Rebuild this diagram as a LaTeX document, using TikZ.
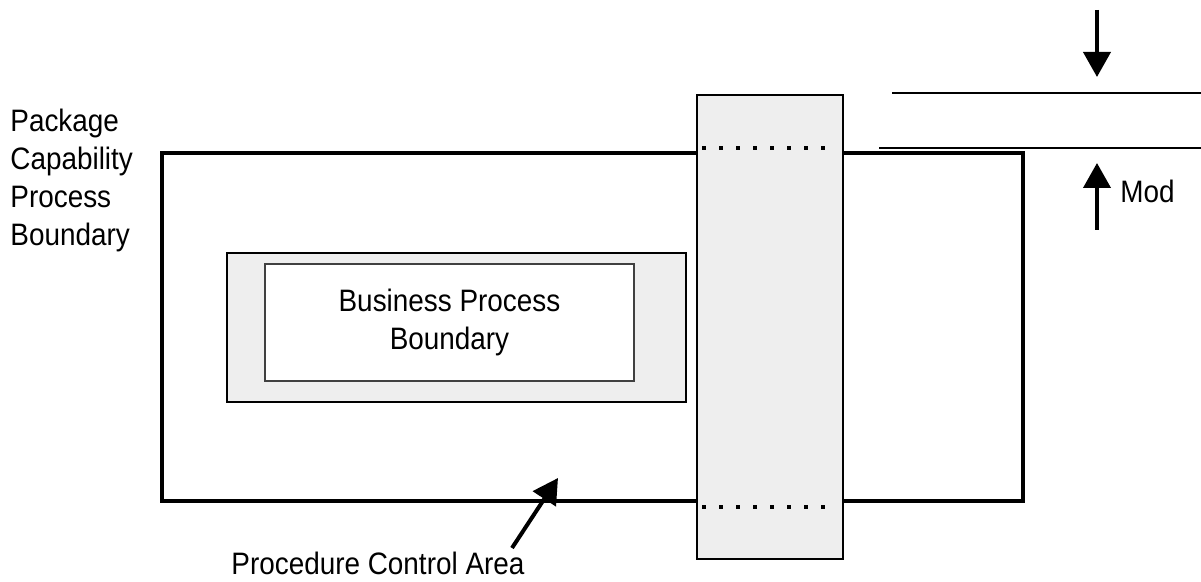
\documentclass[tikz,border=0pt]{standalone}
\usepackage{fontspec}
\setmainfont{Liberation Sans}[FakeStretch=0.9]
\usetikzlibrary{positioning}
\usetikzlibrary{arrows.meta}
\definecolor{areagray}{HTML}{EEEEEE}

\begin{document}
\begin{tikzpicture}[x=0.5pt,y=-0.5pt,font=\fontsize{15.5}{19}\selectfont,
		shaded/.style={fill=areagray,draw,line width=0.8pt,rectangle,inner sep=0},
		bigarrow/.style={-{Triangle[width=13.5pt,length=12.5pt]},line width=2pt},
		refline/.style={line width=0.8pt}]
		\useasboundingbox (0,0) rectangle (1201,582);
		\node[draw,line width=2.1pt,rectangle,minimum width=430.5pt,minimum height=174pt] at (592.5,327) (pcp) {};
		\node[shaded,minimum width=229.5pt,minimum height=74.5pt] at (456.5,327.5) (pca) {};
		\node[fill=white,draw=black!75,line width=0.6pt,rectangle,minimum width=184.5pt,minimum height=58.5pt,align=center] at (449.5,322.5) (bp) {Business Process\\Boundary};
		\node[shaded,minimum width=73pt,minimum height=232pt] at (770,327) (strip) {};
		\foreach \x in {0,...,7} {
			\fill (702+17*\x,146) rectangle ++(4,4);
			\fill (702+17*\x,505) rectangle ++(4,4);
		}
		\coordinate (la) at (892,93);
		\coordinate (lb) at (1201,93);
		\coordinate (lc) at (879,148);
		\coordinate (ld) at (1201,148);
		\draw[refline] (la) -- (lb);
		\draw[refline] (lc) -- (ld);
		\coordinate (dntail) at (1097,10);
		\coordinate (dntip) at (1097,77);
		\draw[bigarrow] (dntail) -- (dntip);
		\coordinate (uptail) at (1097,230);
		\coordinate (uptip) at (1097,163);
		\draw[bigarrow] (uptail) -- (uptip);
		\node[anchor=west,inner sep=0] at (1120,191) (mod) {Mod};
		\node[anchor=base west,inner sep=0,align=left] at (10,246) (pcpl) {Package\\Capability\\Process\\Boundary};
		\node[anchor=base west,inner sep=0] at (231,575) (pcal) {Procedure Control Area};
		\coordinate (pcatail) at (512,548);
		\coordinate (pcatip) at (558,478);
		\draw[bigarrow] (pcatail) -- (pcatip);
	\end{tikzpicture}
\end{document}
